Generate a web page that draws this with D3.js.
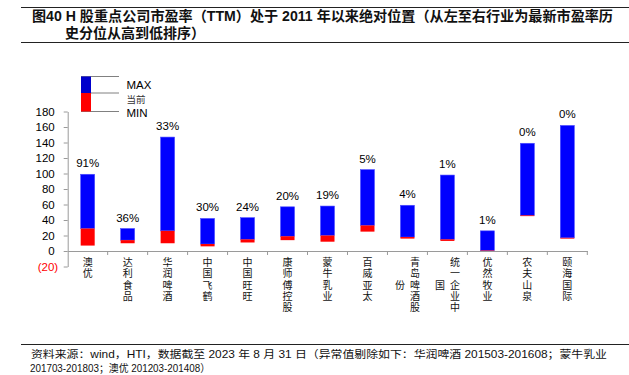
<!DOCTYPE html>
<html>
<head>
<meta charset="utf-8">
<script src="https://cdn.jsdelivr.net/npm/d3@7/dist/d3.min.js"></script>
<style>
  body { margin: 0; background: #fff; }
  svg { display: block; }
</style>
</head>
<body>
<div id="chart"></div>
<script>
// chart data
const companies = ["澳优", "达利食品", "华润啤酒", "中国飞鹤", "中国旺旺", "康师傅控股", "蒙牛乳业",
  "百威亚太", "青岛啤酒股份", "统一企业中国", "优然牧业", "农夫山泉", "颐海国际"];
const peMax = [99, 29, 147, 42, 43, 57, 58, 105, 59, 98, 26, 139, 162];
const peNow = [29, 14, 26, 9, 15, 19, 20, 33, 18, 15, 0.6, 46, 17];
const peMin = [7, 10, 10, 6, 11, 14, 12, 25, 16, 13, 0, 45, 16];
const pctLabels = ["91%", "36%", "33%", "30%", "24%", "20%", "19%", "5%", "4%", "1%", "1%", "0%", "0%"];
const yTicks = [-20, 0, 20, 40, 60, 80, 100, 120, 140, 160, 180];
const legendItems = ["MAX", "当前", "MIN"];

const titleLines = ["图40 H 股重点公司市盈率（TTM）处于 2011 年以来绝对位置（从左至右行业为最新市盈率历",
  "史分位从高到低排序）"];
const noteLines = ["资料来源：wind，HTI，数据截至 2023 年 8 月 31 日（异常值剔除如下：华润啤酒 201503-201608；蒙牛乳业",
  "201703-201803；澳优 201203-201408）"];

const W = 629, H = 375;
const latin = "'Liberation Sans', Arial, 'Noto Sans CJK SC', sans-serif";
const cjk = "'Noto Sans CJK SC', sans-serif";

const svg = d3.select("#chart").append("svg")
  .attr("width", W)
  .attr("height", H);

// title block
svg.append("line").attr("x1", 21).attr("x2", W).attr("y1", 7.5).attr("y2", 7.5)
  .attr("stroke", "#222").attr("stroke-width", 1);
svg.append("line").attr("x1", 21).attr("x2", W).attr("y1", 42.5).attr("y2", 42.5)
  .attr("stroke", "#222").attr("stroke-width", 1);
svg.append("text")
  .attr("x", 32).attr("y", 20.5)
  .attr("font-family", latin).attr("font-size", 14).attr("font-weight", "bold")
  .attr("fill", "#111")
  .attr("textLength", 581).attr("lengthAdjust", "spacingAndGlyphs")
  .text(titleLines[0]);
svg.append("text")
  .attr("x", 65).attr("y", 38)
  .attr("font-family", latin).attr("font-size", 14).attr("font-weight", "bold")
  .attr("fill", "#111")
  .text(titleLines[1]);

// footnote
svg.append("line").attr("x1", 21).attr("x2", W).attr("y1", 344.5).attr("y2", 344.5)
  .attr("stroke", "#222").attr("stroke-width", 1);
svg.append("text")
  .attr("x", 31).attr("y", 357.5)
  .attr("font-family", latin).attr("font-size", 10.5).attr("fill", "#111")
  .attr("textLength", 576).attr("lengthAdjust", "spacingAndGlyphs")
  .text(noteLines[0]);
svg.append("text")
  .attr("x", 30).attr("y", 371.5)
  .attr("font-family", latin).attr("font-size", 10.5).attr("fill", "#111")
  .attr("textLength", 180).attr("lengthAdjust", "spacingAndGlyphs")
  .text(noteLines[1]);

// scales
const x = d3.scaleBand()
  .domain(companies)
  .range([67.7, 587.3])
  .padding(0);

const y = d3.scaleLinear()
  .domain([-20, 180])
  .range([266.5, 111.5]);

const axisColor = "#9a9a9a";

// y axis
const yAxis = svg.append("g")
  .attr("transform", `translate(${x.range()[0]},0)`)
  .call(d3.axisLeft(y)
    .tickValues(yTicks)
    .tickSize(4)
    .tickSizeOuter(0)
    .tickPadding(9)
    .tickFormat(d => d < 0 ? `(${-d})` : d));
yAxis.select(".domain").attr("stroke", axisColor);
yAxis.selectAll(".tick line").attr("stroke", axisColor);
yAxis.selectAll(".tick text")
  .attr("font-family", latin)
  .attr("font-size", 11.5)
  .attr("fill", d => d < 0 ? "#ff0000" : "#000")
  .attr("dx", d => d < 0 ? 3.5 : 0);

// x axis along zero
const xAxis = svg.append("g")
  .attr("transform", `translate(0,${y(0)})`)
  .call(d3.axisBottom(x).tickSize(0).tickSizeOuter(0).tickFormat(""));
xAxis.select(".domain").attr("stroke", axisColor);
xAxis.selectAll(".tick").remove();

const bounds = companies.map(c => x(c)).concat([x.range()[1]]);
svg.append("g").selectAll("line")
  .data(bounds.slice(1))
  .join("line")
    .attr("x1", d => d).attr("x2", d => d)
    .attr("y1", y(0)).attr("y2", y(0) + 4)
    .attr("stroke", axisColor);

// bars
const barW = 14;
const rows = companies.map((c, i) => ({
  name: c, max: peMax[i], now: peNow[i], min: peMin[i], pct: pctLabels[i]
}));

const bars = svg.append("g");
bars.selectAll("rect.upper")
  .data(rows)
  .join("rect")
    .attr("class", "upper")
    .attr("x", d => x(d.name) + x.bandwidth() / 2 - barW / 2)
    .attr("width", barW)
    .attr("y", d => y(d.max))
    .attr("height", d => y(d.now) - y(d.max))
    .attr("fill", "#0000ff")
    .attr("stroke", "#4d4dff")
    .attr("stroke-width", 0.6);

bars.selectAll("rect.lower")
  .data(rows)
  .join("rect")
    .attr("class", "lower")
    .attr("x", d => x(d.name) + x.bandwidth() / 2 - barW / 2)
    .attr("width", barW)
    .attr("y", d => y(d.now))
    .attr("height", d => Math.max(0, y(d.min) - y(d.now)))
    .attr("fill", "#ff0000");

// percentile labels
svg.append("g").selectAll("text")
  .data(rows)
  .join("text")
    .attr("x", d => x(d.name) + x.bandwidth() / 2)
    .attr("y", d => y(d.max) - 11)
    .attr("text-anchor", "middle")
    .attr("dominant-baseline", "central")
    .attr("font-family", latin)
    .attr("font-size", 11.5)
    .attr("fill", "#000")
    .text(d => d.pct);

// category labels: vertical text, 5 characters per column, columns right to left
const perCol = 5, lineH = 11.2, colGap = 15, fs = 10;
const catG = svg.append("g");
rows.forEach(d => {
  const chars = Array.from(d.name);
  const cols = d3.range(0, chars.length, perCol).map(s => chars.slice(s, s + perCol).join(""));
  const longest = d3.max(cols, c => c.length);
  const cx = x(d.name) + x.bandwidth() / 2;
  cols.forEach((col, j) => {
    const colX = cx + (cols.length - 1) / 2 * colGap - j * colGap;
    const offset = (longest - col.length) / 2 * lineH;
    catG.append("text")
      .attr("x", colX)
      .attr("y", 263 - lineH / 2 + offset)
      .style("writing-mode", "vertical-rl")
      .style("text-orientation", "upright")
      .style("letter-spacing", `${lineH - fs}px`)
      .attr("font-family", cjk)
      .attr("font-size", fs)
      .attr("fill", "#111")
      .text(col);
  });
});

// legend
const lg = svg.append("g");
const legendLineY = [76.5, 93, 111.5];
const legendTextY = [85, 99, 113];
lg.selectAll("line")
  .data(legendLineY)
  .join("line")
    .attr("x1", 81).attr("x2", 119)
    .attr("y1", d => d).attr("y2", d => d)
    .attr("stroke", "#808080");
lg.append("rect").attr("x", 81).attr("y", 76.5).attr("width", 10).attr("height", 16.5).attr("fill", "#0000cc");
lg.append("rect").attr("x", 81).attr("y", 93).attr("width", 10).attr("height", 18.5).attr("fill", "#ff0000");
lg.selectAll("text")
  .data(legendItems)
  .join("text")
    .attr("x", 126.5)
    .attr("y", (d, i) => legendTextY[i])
    .attr("dominant-baseline", "central")
    .attr("font-family", (d, i) => i === 1 ? cjk : latin)
    .attr("font-size", (d, i) => i === 1 ? 9.5 : 11.5)
    .attr("fill", (d, i) => i === 1 ? "#333" : "#000")
    .text(d => d);
</script>
</body>
</html>
